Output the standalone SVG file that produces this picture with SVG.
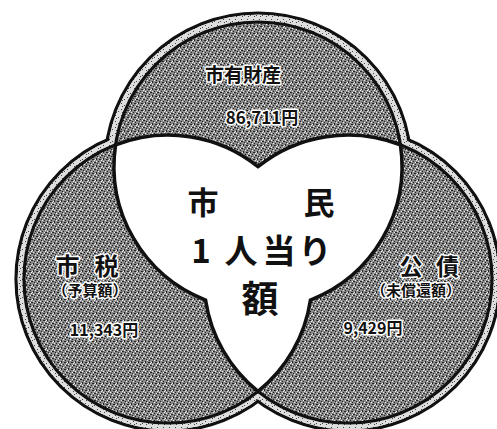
<svg xmlns="http://www.w3.org/2000/svg" width="497" height="429" viewBox="0 0 497 429">
  <style>
    .t { font-family: "Noto Sans CJK JP", "Noto Sans", sans-serif; font-weight: bold; fill: #111; text-anchor: middle; }
    .halo { stroke: #fff; stroke-width: 3; stroke-linejoin: round; paint-order: stroke; }
    .ol { stroke: #111; stroke-width: 3.2; }
  </style>
  <defs>
    <pattern id="stip" width="7" height="7" patternUnits="userSpaceOnUse">
      <rect width="7" height="7" fill="#8a8a8a"/>
      <path d="M0 0h1v1H0zM3 1h2v1H3zM5 4h1v2H5zM1 5h2v1H1zM6 2h1v1H6zM2 3h1v1H2z" fill="#222"/>
      <path d="M2 2h1v-1H2zM4 5h1v1H4zM0 3h1v1H0zM5 0h1v1H5zM3 6h1v1H3z" fill="#f0f0f0"/>
    </pattern>
    <pattern id="band" width="6" height="6" patternUnits="userSpaceOnUse">
      <rect width="6" height="6" fill="#dedede"/>
      <path d="M1 1h1v1H1zM4 3h1v1H4zM2 4h1v1H2z" fill="#444"/>
    </pattern>
  </defs>
  <rect width="497" height="429" fill="#fff"/>

  <!-- outer ring band with union outline -->
  <g id="outer-ring">
    <circle cx="258" cy="166" r="153" fill="url(#band)" class="ol"/>
    <circle cx="168" cy="279" r="152" fill="url(#band)" class="ol"/>
    <circle cx="348" cy="279" r="152" fill="url(#band)" class="ol"/>
    <circle cx="258" cy="166" r="151.3" fill="url(#band)"/>
    <circle cx="168" cy="279" r="150.3" fill="url(#band)"/>
    <circle cx="348" cy="279" r="150.3" fill="url(#band)"/>
  </g>

  <!-- stippled inner areas with union outline -->
  <g id="inner-areas">
    <circle cx="258" cy="166" r="144" fill="url(#stip)" class="ol"/>
    <circle cx="168" cy="279" r="144" fill="url(#stip)" class="ol"/>
    <circle cx="348" cy="279" r="144" fill="url(#stip)" class="ol"/>
    <circle cx="258" cy="166" r="142.3" fill="url(#stip)"/>
    <circle cx="168" cy="279" r="142.3" fill="url(#stip)"/>
    <circle cx="348" cy="279" r="142.3" fill="url(#stip)"/>
  </g>

  <!-- white centre region (overlaps) -->
  <g id="center">
    <path d="M115.56 144.89 A144 144 0 0 1 258 166.6 A144 144 0 0 1 400.44 144.89 A144 144 0 0 1 310.44 300.11 A144 144 0 0 1 258 391.4 A144 144 0 0 1 205.56 300.11 A144 144 0 0 1 115.56 144.89 Z" fill="#fff" stroke="#111" stroke-width="3.5" stroke-linejoin="miter"/>
    <text class="t" font-size="31" x="203" y="214">市</text>
    <text class="t" font-size="31" x="319" y="214">民</text>
    <text class="t" font-size="33" x="201" y="263">1</text>
    <text class="t" font-size="33" x="241" y="263">人</text>
    <text class="t" font-size="33" x="279" y="263">当</text>
    <text class="t" font-size="33" x="315" y="263">り</text>
    <text class="t" font-size="37" x="260" y="313">額</text>
  </g>

  <g id="top-circle">
    <text class="t halo" font-size="19" x="243" y="82">市有財産</text>
    <text class="t halo" font-size="17" x="262" y="124">86,711円</text>
  </g>

  <g id="left-circle">
    <text class="t halo" font-size="24" x="67.5" y="275">市</text>
    <text class="t halo" font-size="24" x="106.5" y="275">税</text>
    <text class="t halo" font-size="15" x="90" y="296">（予算額）</text>
    <text class="t halo" font-size="16" x="104" y="336">11,343円</text>
  </g>

  <g id="right-circle">
    <text class="t halo" font-size="23" x="411" y="275">公</text>
    <text class="t halo" font-size="23" x="447.5" y="275">債</text>
    <text class="t halo" font-size="15" x="416" y="296">（未償還額）</text>
    <text class="t halo" font-size="16" x="373" y="334">9,429円</text>
  </g>

  <g id="connectors"/>
</svg>
